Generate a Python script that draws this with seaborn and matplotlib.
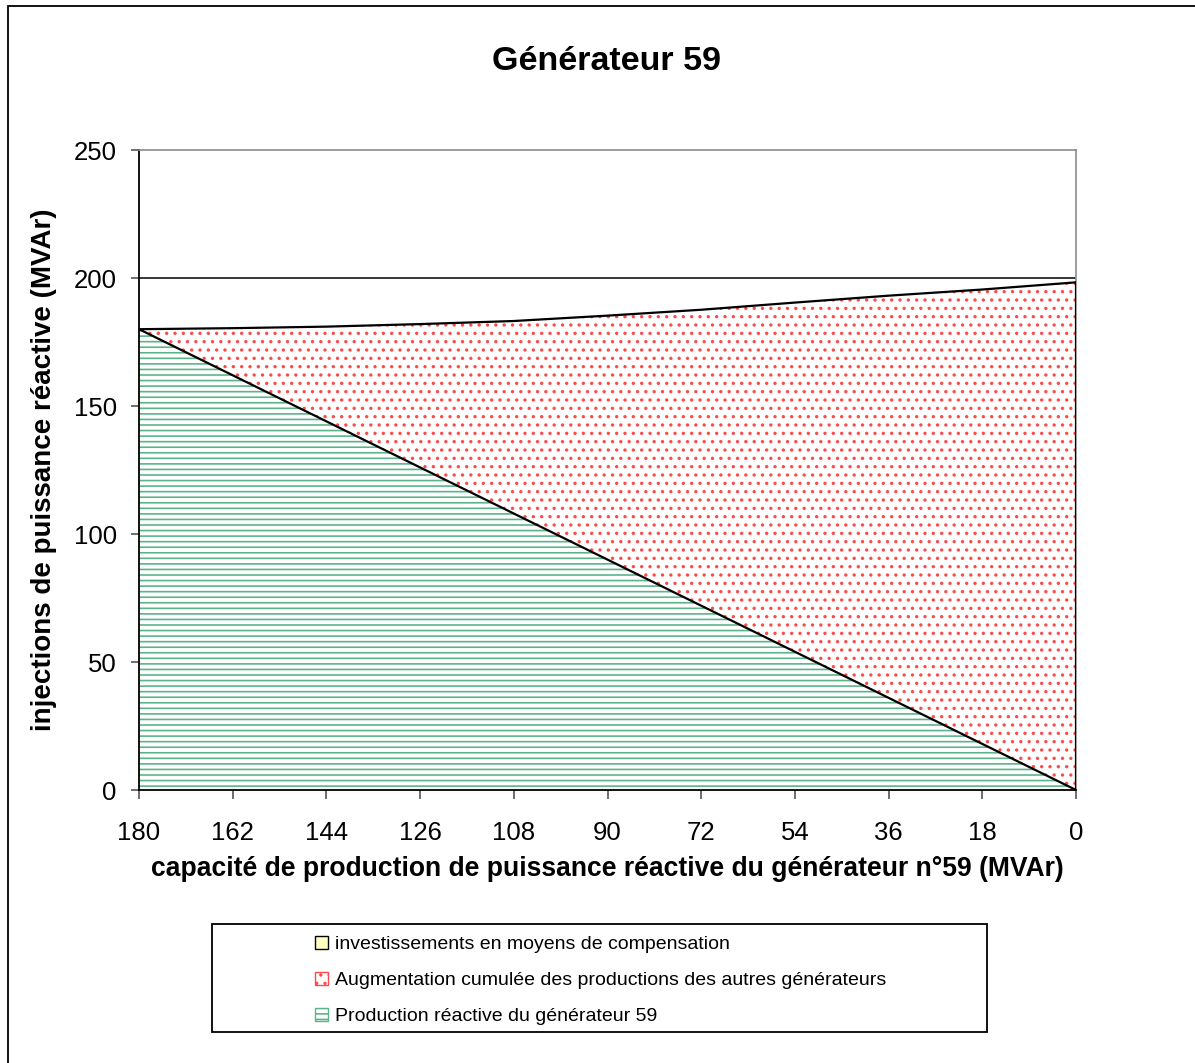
import matplotlib.pyplot as plt
import matplotlib.patches as mpatches
import seaborn as sns
import numpy as np

# capacité du générateur 59 (axe x, de 180 à 0)
capacite = [180, 162, 144, 126, 108, 90, 72, 54, 36, 18, 0]
# séries empilées (MVAr)
prod_gen59 = [180, 162, 144, 126, 108, 90, 72, 54, 36, 18, 0]
autres_gen = [0, 18.4, 37, 56, 75.2, 95.3, 115.6, 136.4, 157.1, 177.5, 198.3]
investissements = [0, 0, 0, 0, 0, 0, 0, 0, 0, 0, 0]

noms = ['investissements en moyens de compensation',
        'Augmentation cumulée des productions des autres générateurs',
        'Production réactive du générateur 59']

sns.set_style('white')
plt.rcParams['font.family'] = ['Liberation Sans', 'DejaVu Sans']
plt.rcParams['text.color'] = 'black'
plt.rcParams['axes.labelcolor'] = 'black'
plt.rcParams['xtick.color'] = 'black'
plt.rcParams['ytick.color'] = 'black'
plt.rcParams['hatch.linewidth'] = 1.2

W, H = 1195, 1063
fig = plt.figure(figsize=(W / 100, H / 100), dpi=100)
ax = fig.add_axes([139 / W, 1 - 790 / H, (1076 - 139) / W, (790 - 150) / H])

x = np.array(capacite)
bas = np.array(prod_gen59)
milieu = bas + np.array(autres_gen)
haut = milieu + np.array(investissements)

# grille derrière les aires
for v in [50, 100, 150, 200]:
    ax.axhline(v, color='black', lw=1.1, zorder=0)

vert = '#5db38a'
rouge = '#ff4a4a'
ax.fill_between(x, 0, bas, facecolor='white', edgecolor=vert, hatch='---', lw=0, zorder=1)
ax.fill_between(x, bas, milieu, facecolor='white', edgecolor=rouge, hatch='..', lw=0, zorder=1)
ax.fill_between(x, milieu, haut, facecolor='#ffffc0', lw=0, zorder=1)

sns.lineplot(x=capacite, y=list(bas), color='black', lw=1.6, ax=ax, zorder=3)
sns.lineplot(x=capacite, y=list(haut), color='black', lw=1.6, ax=ax, zorder=3)
ax.plot([0, 0], [0, haut[-1]], color='black', lw=1.6, zorder=3)

ax.set_xlim(180, 0)
ax.set_ylim(0, 250)
ax.set_xticks(capacite)
ax.set_xticklabels([str(c) for c in capacite])
ax.set_yticks([0, 50, 100, 150, 200, 250])

for s in ['top', 'right']:
    ax.spines[s].set_color('#8c8c8c')
    ax.spines[s].set_linewidth(1.2)
for s in ['left', 'bottom']:
    ax.spines[s].set_color('black')
    ax.spines[s].set_linewidth(1.3)

ax.tick_params(axis='x', direction='out', length=6.5, width=1.2, color='#555555',
               labelsize=18.5, pad=16, bottom=True)
ax.tick_params(axis='y', direction='out', length=6, width=1.2, color='#555555',
               labelsize=18.5, pad=10, left=True)

ax.set_xlabel('capacité de production de puissance réactive du générateur n°59 (MVAr)',
              fontsize=19.1, fontweight='bold', labelpad=8)
ax.set_ylabel('injections de puissance réactive (MVAr)', fontsize=20,
              fontweight='bold', labelpad=12)

fig.text(607 / W, 1 - 62 / H, 'Générateur 59', ha='center', va='center',
         fontsize=24.5, fontweight='bold')

# cadre extérieur
fig.patches.append(mpatches.Rectangle((8 / W, -0.05), 1.1, 1 - 6 / H + 0.05,
                                      transform=fig.transFigure, fill=False,
                                      edgecolor='black', lw=1.3))
# cadre de la légende
fig.patches.append(mpatches.Rectangle((212 / W, 1 - 1032 / H), (987 - 212) / W, (1032 - 924) / H,
                                      transform=fig.transFigure, fill=False,
                                      edgecolor='black', lw=1.3))

poignees = [
    mpatches.Patch(facecolor='#ffffc0', edgecolor='black', lw=1),
    mpatches.Patch(facecolor='white', edgecolor=rouge, hatch='..', lw=1),
    mpatches.Patch(facecolor='white', edgecolor=vert, hatch='---', lw=1),
]
fig.legend(poignees, noms, loc='upper left', bbox_to_anchor=(297 / W, 1 - 918 / H),
           frameon=False, fontsize=14, handlelength=0.7, handleheight=0.7,
           handletextpad=0.35, labelspacing=0.95)

fig.savefig('out.png', dpi=100)
